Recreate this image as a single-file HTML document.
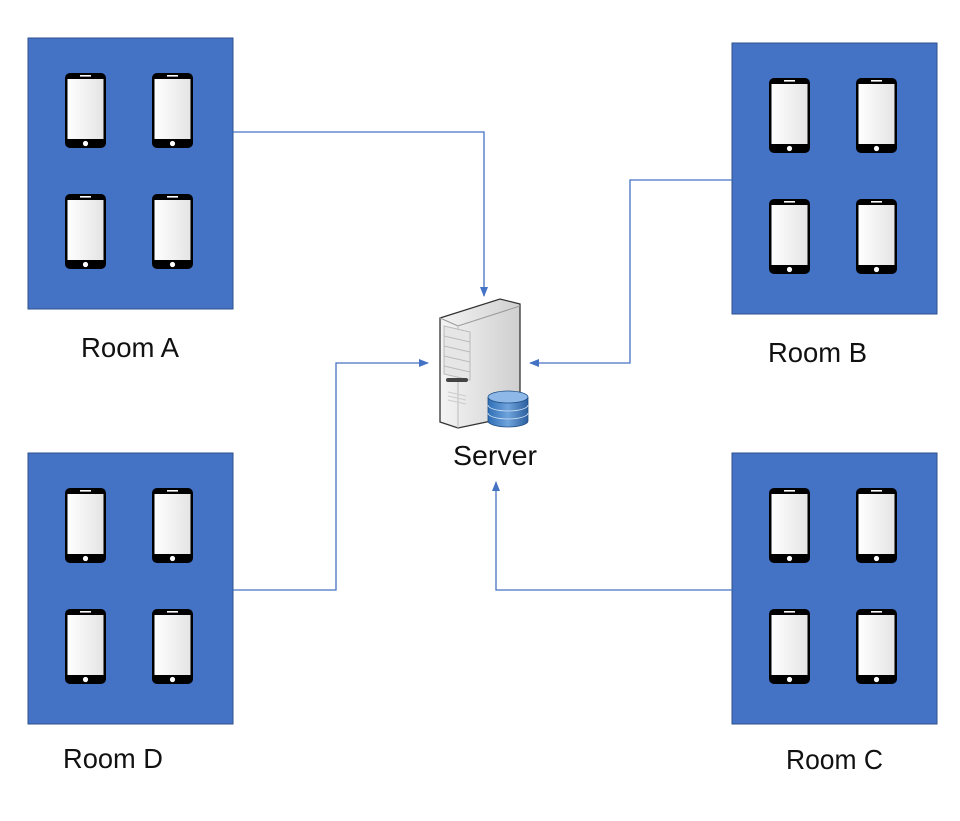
<!DOCTYPE html>
<html><head><meta charset="utf-8"><style>
html,body{margin:0;padding:0;background:#fff;}
svg{display:block;}
text{font-family:"Liberation Sans","DejaVu Sans",sans-serif;fill:#111;}
</style></head><body>
<svg width="960" height="821" viewBox="0 0 960 821" xmlns="http://www.w3.org/2000/svg">
<defs>
<linearGradient id="scr" x1="0" x2="1" y1="0" y2="0"><stop offset="0" stop-color="#ffffff"/><stop offset="1" stop-color="#e4e4e4"/></linearGradient>
<linearGradient id="srv" x1="0" x2="1"><stop offset="0" stop-color="#f4f4f4"/><stop offset="1" stop-color="#cfcfcf"/></linearGradient>
<linearGradient id="db" x1="0" x2="1"><stop offset="0" stop-color="#2f6fb5"/><stop offset="0.5" stop-color="#6fa3dc"/><stop offset="1" stop-color="#2b5f9e"/></linearGradient>
<g id="ph">
<rect x="0" y="0" width="41" height="75" rx="5" fill="#000"/>
<rect x="2.5" y="6" width="36" height="60" fill="url(#scr)"/>
<rect x="15" y="2" width="11" height="1.6" fill="#fff"/>
<circle cx="20.5" cy="70.5" r="2.6" fill="#fff"/>
</g>
<g id="room">
<rect x="0" y="0" width="205" height="271" fill="#4472c4" stroke="#2f528f" stroke-width="1"/>
<use href="#ph" x="37" y="35"/><use href="#ph" x="124" y="35"/>
<use href="#ph" x="37" y="156"/><use href="#ph" x="124" y="156"/>
</g>
<marker id="ar" markerWidth="10" markerHeight="10" refX="9" refY="5" orient="auto" markerUnits="userSpaceOnUse"><path d="M0,1 L10,5 L0,9 z" fill="#4472c4"/></marker>
</defs>

<use href="#room" x="28" y="38"/>
<use href="#room" x="732" y="43"/>
<use href="#room" x="28" y="453"/>
<use href="#room" x="732" y="453"/>

<g fill="none" stroke="#4472c4" stroke-width="1.3">
<path d="M233,132 H484 V296" marker-end="url(#ar)"/>
<path d="M732,180 H630 V363 H530" marker-end="url(#ar)"/>
<path d="M233,590 H336 V363 H428" marker-end="url(#ar)"/>
<path d="M732,590 H496 V482" marker-end="url(#ar)"/>
</g>

<path d="M440,318 L500,299 L520,304 L520,415 L458,428 L440,422 Z" fill="url(#srv)" stroke="#333" stroke-width="1.3"/>
<path d="M440,318 L458,326 L520,306" fill="none" stroke="#999" stroke-width="1"/>
<path d="M458,326 L458,428" stroke="#bbb" stroke-width="1"/>
<g stroke="#bbb" stroke-width="1">
<path d="M444,326 L470,332 L470,380 L444,374 Z" fill="#e6e6e6"/>
<path d="M444,336 L470,342 M444,346 L470,352 M444,356 L470,362 M444,366 L470,372"/>
</g>
<rect x="446" y="378" width="22" height="4" rx="2" fill="#444"/>
<path d="M448,392 L466,396 M448,396 L466,400 M448,400 L466,404" stroke="#ccc"/>
<g stroke="#1f4e85" stroke-width="0.8">
<path d="M488,397 v24 a20,6 0 0 0 40,0 v-24" fill="url(#db)"/>
<ellipse cx="508" cy="397" rx="20" ry="6" fill="#8db8e8"/>
<path d="M488,405 a20,6 0 0 0 40,0 M488,413 a20,6 0 0 0 40,0" fill="none" stroke="#cfe0f5"/>
</g>

<text x="453" y="465" font-size="28" textLength="84" lengthAdjust="spacingAndGlyphs">Server</text>
<text x="81" y="357" font-size="28" textLength="98" lengthAdjust="spacingAndGlyphs">Room A</text>
<text x="768" y="362" font-size="28" textLength="99" lengthAdjust="spacingAndGlyphs">Room B</text>
<text x="63" y="768" font-size="28" textLength="100" lengthAdjust="spacingAndGlyphs">Room D</text>
<text x="786" y="769" font-size="28" textLength="97" lengthAdjust="spacingAndGlyphs">Room C</text>
</svg>
</body></html>
